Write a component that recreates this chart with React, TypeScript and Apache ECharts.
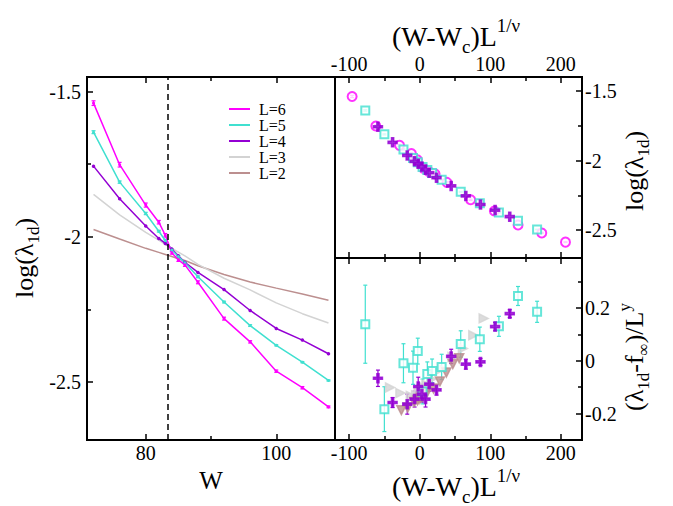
import React, { useEffect, useRef } from 'react';
import * as echarts from 'echarts';

const FONT = 'Liberation Serif';

// disorder strength W, critical point and exponent used for the collapse
const W = [72, 76, 80, 82, 83, 84, 85, 86, 88, 92, 96, 100, 104, 108];
const WC = 83.4;
const NU = 0.842;

// log(lambda_1d) for each L (left panel and top right panel)
const LOG_L6 = [-1.54, -1.752, -1.891, -1.95, -1.995, -2.055, -2.08, -2.097, -2.157, -2.282, -2.362, -2.463, -2.52, -2.586];
const ERR_L6 = [0.008, 0.008, 0.007, 0.006, 0.006, 0.005, 0.005, 0.005, 0.005, 0.005, 0.004, 0.004, 0.004, 0.003];
const LOG_L5 = [-1.64, -1.812, -1.92, -1.981, -2.013, -2.046, -2.068, -2.09, -2.138, -2.225, -2.306, -2.374, -2.432, -2.495];
const ERR_L5 = [0.005, 0.004, 0.004, 0.003, 0.003, 0.003, 0.003, 0.003, 0.003, 0.003, 0.003, 0.002, 0.002, 0.002];
const LOG_L4 = [-1.757, -1.869, -1.963, -2.006, -2.023, -2.042, -2.066, -2.088, -2.123, -2.182, -2.254, -2.316, -2.356, -2.403];
const LOG_L3 = [-1.854, -1.925, -1.985, -2.012, -2.026, -2.04, -2.053, -2.066, -2.095, -2.143, -2.183, -2.228, -2.265, -2.297];
const LOG_L2 = [-1.975, -2.008, -2.04, -2.054, -2.061, -2.068, -2.076, -2.082, -2.1, -2.13, -2.156, -2.177, -2.197, -2.219];

// corrections to scaling (bottom right panel)
const CORR_L5 = [0.139, -0.183, -0.009, -0.026, 0.037, -0.116, -0.05, -0.038, -0.023, 0.064, 0.082, 0.131, 0.246, 0.186];
const CORR_ERR_L5 = [0.148, 0.085, 0.074, 0.063, 0.049, 0.047, 0.046, 0.045, 0.048, 0.05, 0.046, 0.038, 0.036, 0.04];
const CORR_L4 = [-0.066, -0.158, -0.164, -0.145, -0.097, -0.126, -0.145, -0.088, -0.11, 0.017, -0.0125, -0.004, 0.13, 0.179];
const CORR_ERR_L4 = [0.031, 0.019, 0.038, 0.03, 0.035, 0.03, 0.03, 0.027, 0.02, 0.027, 0.019, 0.013, 0.016, 0.015];
const CORR_L3 = [-0.101, -0.122, -0.133, -0.13, -0.12, -0.11, -0.1, -0.09, -0.069, -0.03, 0.015, 0.047, 0.097, 0.161];
const CORR_L2 = [-0.187, -0.177, -0.156, -0.15, -0.145, -0.14, -0.135, -0.13, -0.12, -0.105, -0.078, -0.044, -0.0125, 0.01];

// ticks
const X_MAJOR_LEFT = [80, 100];
const X_MINOR_LEFT = [90];
const Y_MAJOR_LEFT = [-1.5, -2, -2.5];
const Y_MINOR_LEFT = [-1.75, -2.25];
const X_MAJOR_RIGHT = [-100, 0, 100, 200];
const X_MINOR_RIGHT = [-50, 50, 150];
const Y_MAJOR_CORR = [0.2, 0, -0.2];
const Y_MINOR_CORR = [0.3, 0.1, -0.1];

const PINK = '#ff00ff';
const CYAN = '#40e0d0';
const PURPLE = '#9400d3';
const GREY = '#d3d3d3';
const BROWN = '#bc8f8f';

const PLUS = 'path://M3.8,0H6.2V3.8H10V6.2H6.2V10H3.8V6.2H0V3.8H3.8Z';
const TRI_RIGHT = 'path://M0,0L10,5L0,10Z';
const TRI_DOWN = 'path://M0,0L10,0L5,10Z';

const scaled = (L: number) => W.map((w) => (w - WC) * Math.pow(L, 1 / NU));
const pairs = (xs: number[], ys: number[]) => xs.map((x, i) => [x, ys[i]]);

const axis = (grid: number, position: string, min: number, max: number, ticks: number[], length: number, labels?: any) => ({
  type: 'value',
  gridIndex: grid,
  position,
  min,
  max,
  axisLine: { show: false, onZero: false },
  splitLine: { show: false },
  axisTick: { show: true, inside: true, length, customValues: ticks, lineStyle: { color: '#000', width: 1.5 } },
  axisLabel: labels
    ? { show: true, color: '#000', fontFamily: FONT, fontSize: 20, ...labels }
    : { show: false },
});

const errorBars = (xs: number[], ys: number[], errs: number[], color: string, xi: number, yi: number, cap: number) => ({
  type: 'custom',
  xAxisIndex: xi,
  yAxisIndex: yi,
  silent: true,
  data: xs.map((x, i) => [x, ys[i], ys[i] - errs[i], ys[i] + errs[i]]),
  encode: { x: 0, y: [1, 2, 3] },
  renderItem: (params: any, api: any) => {
    const lo = api.coord([api.value(0), api.value(2)]);
    const hi = api.coord([api.value(0), api.value(3)]);
    const style = { stroke: color, lineWidth: 1.2 };
    return {
      type: 'group',
      children: [
        { type: 'line', shape: { x1: lo[0], y1: lo[1], x2: hi[0], y2: hi[1] }, style },
        { type: 'line', shape: { x1: lo[0] - cap, y1: lo[1], x2: lo[0] + cap, y2: lo[1] }, style },
        { type: 'line', shape: { x1: hi[0] - cap, y1: hi[1], x2: hi[0] + cap, y2: hi[1] }, style },
      ],
    };
  },
});

const lineSeries = (name: string, ys: number[], color: string, symbolSize: number) => ({
  name,
  type: 'line',
  xAxisIndex: 0,
  yAxisIndex: 0,
  data: pairs(W, ys),
  showSymbol: symbolSize > 0,
  symbol: 'circle',
  symbolSize,
  itemStyle: { color },
  lineStyle: { color, width: 1.5 },
});

const scatter = (name: string, xs: number[], ys: number[], color: string, symbol: string, size: number, xi: number, yi: number) => ({
  name,
  type: 'scatter',
  xAxisIndex: xi,
  yAxisIndex: yi,
  data: pairs(xs, ys),
  symbol,
  symbolSize: size,
  itemStyle: { color, borderColor: color, borderWidth: 1.5 },
});

const richH = {
  m: { fontFamily: FONT, fontSize: 28, lineHeight: 40, fill: '#000' },
  s: { fontFamily: FONT, fontSize: 19, lineHeight: 22, verticalAlign: 'bottom', fill: '#000' },
  p: { fontFamily: FONT, fontSize: 19, lineHeight: 6, verticalAlign: 'top', fill: '#000' },
};
const richV = {
  m: { fontFamily: FONT, fontSize: 26, lineHeight: 36, fill: '#000' },
  s: { fontFamily: FONT, fontSize: 17, lineHeight: 18, verticalAlign: 'bottom', fill: '#000' },
  p: { fontFamily: FONT, fontSize: 17, lineHeight: 6, verticalAlign: 'top', fill: '#000' },
};

const hText = (x: number, y: number, text: string) => ({
  type: 'text',
  x,
  y,
  style: { text, rich: richH, align: 'left', verticalAlign: 'middle', textAlign: 'left', textVerticalAlign: 'middle' },
});
const vText = (x: number, y: number, text: string) => ({
  type: 'group',
  x,
  y,
  rotation: Math.PI / 2,
  children: [
    {
      type: 'text',
      x: 0,
      y: 0,
      style: { text, rich: richV, align: 'center', verticalAlign: 'middle', textAlign: 'center', textVerticalAlign: 'middle' },
    },
  ],
});

const gridBox = (left: number, top: number, width: number, height: number) => ({
  left,
  top,
  width,
  height,
  show: true,
  borderColor: '#000',
  borderWidth: 2,
  backgroundColor: 'transparent',
  containLabel: false,
  outerBoundsMode: 'none',
});

const ScalingChart = () => {
  const chartRef = useRef<HTMLDivElement | null>(null);

  useEffect(() => {
    if (!chartRef.current) return;
    const chart = echarts.init(chartRef.current, undefined, { renderer: 'svg' });

    const x6 = scaled(6);
    const x5 = scaled(5);
    const x4 = scaled(4);
    const x3 = scaled(3);
    const x2 = scaled(2);

    const option = {
      animation: false,
      backgroundColor: '#fff',
      textStyle: { fontFamily: FONT },
      grid: [gridBox(87, 77, 248, 363), gridBox(335, 77, 247, 181), gridBox(335, 258, 247, 182)],
      xAxis: [
        {
          ...axis(0, 'bottom', 71, 109, X_MAJOR_LEFT, 6, { customValues: X_MAJOR_LEFT, margin: 3 }),
          name: 'W',
          nameLocation: 'middle',
          nameGap: 18,
          nameTextStyle: { fontFamily: FONT, fontSize: 25, color: '#000' },
        },
        axis(0, 'bottom', 71, 109, X_MINOR_LEFT, 4),
        axis(0, 'top', 71, 109, X_MAJOR_LEFT, 6),
        axis(0, 'top', 71, 109, X_MINOR_LEFT, 4),
        axis(1, 'top', -120, 230, X_MAJOR_RIGHT, 6, { customValues: X_MAJOR_RIGHT, margin: 3 }),
        axis(1, 'top', -120, 230, X_MINOR_RIGHT, 4),
        axis(1, 'bottom', -120, 230, X_MAJOR_RIGHT, 6),
        axis(1, 'bottom', -120, 230, X_MINOR_RIGHT, 4),
        axis(2, 'top', -120, 230, X_MAJOR_RIGHT, 6),
        axis(2, 'top', -120, 230, X_MINOR_RIGHT, 4),
        axis(2, 'bottom', -120, 230, X_MAJOR_RIGHT, 6, { customValues: X_MAJOR_RIGHT, margin: 3 }),
        axis(2, 'bottom', -120, 230, X_MINOR_RIGHT, 4),
      ],
      yAxis: [
        axis(0, 'left', -2.7, -1.45, Y_MAJOR_LEFT, 6, { customValues: Y_MAJOR_LEFT, margin: 6 }),
        axis(0, 'left', -2.7, -1.45, Y_MINOR_LEFT, 4),
        axis(1, 'right', -2.7, -1.4, Y_MAJOR_LEFT, 6, { customValues: Y_MAJOR_LEFT, margin: 3 }),
        axis(1, 'right', -2.7, -1.4, Y_MINOR_LEFT, 4),
        axis(2, 'right', -0.3, 0.39, Y_MAJOR_CORR, 6, { customValues: Y_MAJOR_CORR, margin: 3 }),
        axis(2, 'right', -0.3, 0.39, Y_MINOR_CORR, 4),
      ],
      legend: {
        data: ['L=6', 'L=5', 'L=4', 'L=3', 'L=2'],
        orient: 'vertical',
        left: 224,
        top: 96,
        itemWidth: 21,
        itemHeight: 2,
        itemGap: 0,
        icon: 'rect',
        selectedMode: false,
        textStyle: { fontFamily: FONT, fontSize: 16, color: '#000', lineHeight: 14.4, padding: [0, 0, 0, 4] },
      },
      series: [
        // left panel
        lineSeries('L=2', LOG_L2, BROWN, 0),
        lineSeries('L=3', LOG_L3, GREY, 0),
        lineSeries('L=4', LOG_L4, PURPLE, 3.5),
        lineSeries('L=5', LOG_L5, CYAN, 3),
        errorBars(W, LOG_L5, ERR_L5, CYAN, 0, 0, 2),
        {
          ...lineSeries('L=6', LOG_L6, PINK, 3),
          markLine: {
            silent: true,
            symbol: 'none',
            label: { show: false },
            lineStyle: { color: '#000', type: [6, 4], width: 1.5 },
            data: [{ xAxis: WC }],
          },
        },
        errorBars(W, LOG_L6, ERR_L6, PINK, 0, 0, 2),

        // top right: scaling collapse
        scatter('L=6 collapse', x6, LOG_L6, PINK, 'emptyCircle', 9, 4, 2),
        errorBars(x6, LOG_L6, ERR_L6, PINK, 4, 2, 2),
        scatter('L=5 collapse', x5, LOG_L5, CYAN, 'emptyRect', 8, 4, 2),
        errorBars(x5, LOG_L5, ERR_L5, CYAN, 4, 2, 2),
        scatter('L=4 collapse', x4, LOG_L4, PURPLE, PLUS, 9, 4, 2),

        // bottom right: corrections
        scatter('L=3 corr', x3, CORR_L3, GREY, TRI_RIGHT, 9, 10, 4),
        scatter('L=2 corr', x2, CORR_L2, BROWN, TRI_DOWN, 9, 10, 4),
        errorBars(x5, CORR_L5, CORR_ERR_L5, CYAN, 10, 4, 2),
        scatter('L=5 corr', x5, CORR_L5, CYAN, 'emptyRect', 8, 10, 4),
        errorBars(x4, CORR_L4, CORR_ERR_L4, PURPLE, 10, 4, 2),
        scatter('L=4 corr', x4, CORR_L4, PURPLE, PLUS, 9, 10, 4),
      ],
      graphic: [
        hText(392, 36, '{m|(W-W}{s|c}{m|)L}{p|1/ν}'),
        hText(392, 486, '{m|(W-W}{s|c}{m|)L}{p|1/ν}'),
        vText(24, 258, '{m|log(λ}{s|1d}{m|)}'),
        vText(634, 171, '{m|log(λ}{s|1d}{m|)}'),
        vText(634, 357, '{m|(λ}{s|1d}{m|-f}{s|∞}{m|)/L}{p|y}'),
      ],
    };

    chart.setOption(option as any);

    return () => {
      chart.dispose();
    };
  }, []);

  return (
    <div
      ref={chartRef}
      style={{ position: 'absolute', left: 0, top: 0, width: '673px', height: '506px' }}
    />
  );
};

const App = () => <ScalingChart />;

export default App;
